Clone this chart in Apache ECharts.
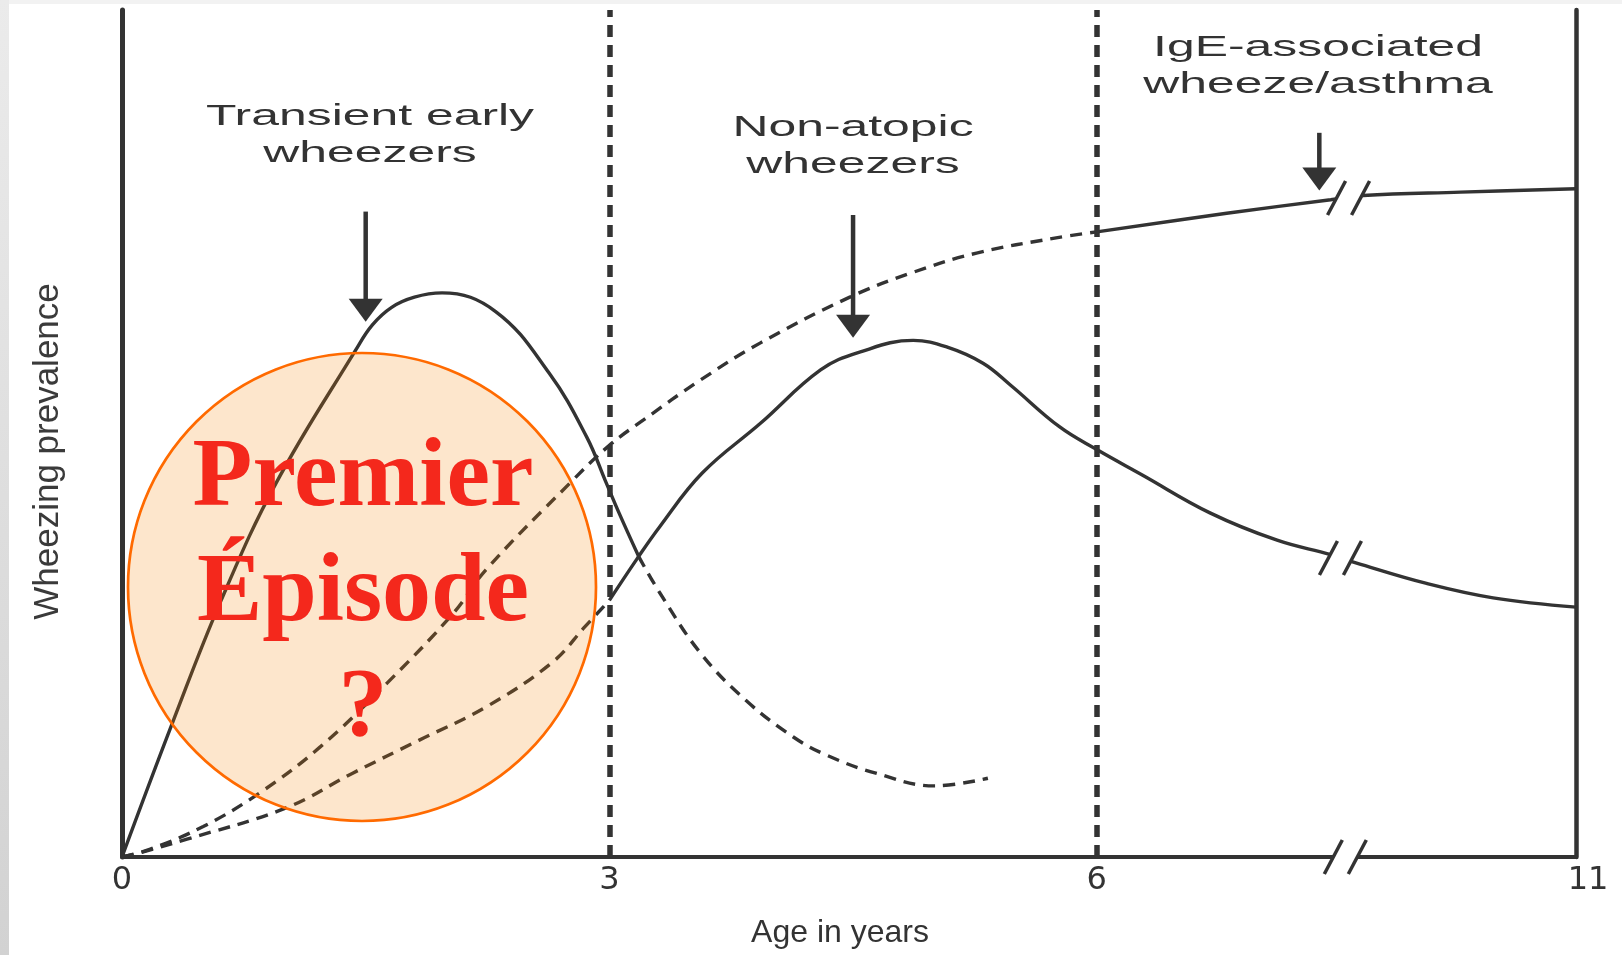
<!DOCTYPE html>
<html lang="en">
<head>
<meta charset="utf-8" />
<title>Wheezing phenotypes</title>
<script src="https://cdn.jsdelivr.net/npm/echarts@6.0.0/dist/echarts.min.js"></script>
<style>
	html,body{margin:0;padding:0;background:#fff;}
	#main{width:1622px;height:955px;}
</style>
</head>
<body>
<div id="main"></div>
<script>
// x: age axis units (axis is broken after 6, the right edge is labelled 11)
var tickPos = [0, 3, 6, 8.95];
var tickLabels = ['0', '3', '6', '11'];
var regionLines = [3, 6];

// Transient early wheezers
var transientSolid = [[0,0],[0.31,15.8],[0.61,30.3],[0.95,44.2],[1.44,59.9],[1.54,62.8],[1.66,64.9],[1.80,66.1],[1.97,66.6],[2.30,64.4],[2.63,57.1],[2.86,49.6],[2.98,44.2],[3.06,40.6],[3.18,35.5]];
var transientDashed = [[3.18,35.5],[3.31,31.2],[3.56,24.1],[3.84,18.5],[4.13,14.2],[4.34,12.0],[4.64,9.9],[5.00,8.4],[5.33,9.3]];
// Non-atopic wheezers
var nonAtopicDashed = [[0,0],[0.11,0.5],[0.40,2.1],[1.01,5.8],[1.42,9.9],[1.83,13.8],[2.24,17.7],[2.65,23.0],[2.85,27.2],[3.00,30.3]];
var nonAtopicSolid = [[3.00,30.3],[3.17,35.2],[3.31,39.0],[3.57,45.3],[3.93,51.2],[4.30,57.5],[4.54,59.6],[4.87,61.0],[5.08,60.2],[5.30,58.3],[5.47,55.7],[5.77,50.8],[6.00,48.1],[6.28,45.1],[6.70,40.6],[7.11,37.4],[7.44,35.7],[7.60,34.7],[8.03,32.3],[8.44,30.6],[8.95,29.5]];
// IgE-associated wheeze/asthma
var igeDashed = [[0,0],[0.17,0.9],[0.50,3.6],[0.85,7.6],[1.22,13.0],[1.63,20.5],[2.04,28.8],[2.24,33.9],[2.76,44.2],[3.00,48.6],[3.21,51.6],[3.56,56.3],[3.93,60.7],[4.48,66.1],[4.85,68.9],[5.26,71.3],[5.75,73.1],[6.00,73.8]];
var igeSolid = [[6.00,73.8],[6.80,76.0],[7.44,77.6],[7.64,78.1],[8.24,78.5],[8.95,78.9]];

// arrows: [x, top of shaft, tip]
var arrows = [[1.50,76.2,63.2],[4.50,75.8,61.3],[7.37,85.5,78.7]];
// axis break marks "//": [x, y]
var breakMarks = [[7.53,0],[7.55,77.8],[7.50,35.3]];

var ink = '#333';
var dash = [12, 8];

function tickLabel(v){
	for (var i = 0; i < tickPos.length; i++) {
		if (Math.abs(tickPos[i] - v) < 1e-6) {
			// last label sits a bit to the right of the end line
			return i === tickPos.length - 1 ? '{r|' + tickLabels[i] + '}' : tickLabels[i];
		}
	}
	return '';
}

function lineSeries(data, dashed){
	return {
		type: 'line',
		data: data,
		smooth: 0.4,
		showSymbol: false,
		silent: true,
		z: 3,
		lineStyle: {color: ink, width: 3.4, type: dashed ? dash : 'solid'}
	};
}

var chart = echarts.init(document.getElementById('main'));

var series = [
	lineSeries(transientSolid, false),
	lineSeries(transientDashed, true),
	lineSeries(nonAtopicDashed, true),
	lineSeries(nonAtopicSolid, false),
	lineSeries(igeDashed, true),
	lineSeries(igeSolid, false)
];
// vertical dotted lines at 3 and 6 years
series[4].markLine = {
	silent: true,
	symbol: 'none',
	label: {show: false},
	lineStyle: {color: ink, width: 5.5, type: [12, 8]},
	data: regionLines.map(function (x) { return {xAxis: x}; })
};

series.push({
	type: 'custom',
	silent: true,
	z: 6,
	data: arrows,
	encode: {x: 0, y: [1, 2]},
	renderItem: function (params, api) {
		var top = api.coord([api.value(0), api.value(1)]);
		var tip = api.coord([api.value(0), api.value(2)]);
		return {
			type: 'group',
			children: [
				{type: 'line', shape: {x1: top[0], y1: top[1], x2: tip[0], y2: tip[1] - 20}, style: {stroke: ink, lineWidth: 4.5}},
				{type: 'polygon', shape: {points: [[tip[0] - 17, tip[1] - 23], [tip[0] + 17, tip[1] - 23], [tip[0], tip[1]]]}, style: {fill: ink}}
			]
		};
	}
});

series.push({
	type: 'custom',
	silent: true,
	z: 6,
	data: breakMarks,
	encode: {x: 0, y: 1},
	renderItem: function (params, api) {
		var c = api.coord([api.value(0), api.value(1)]);
		var cx = c[0], cy = c[1];
		var h = 8, s = 9 * h / 17;
		return {
			type: 'group',
			children: [
				{type: 'polygon', shape: {points: [[cx - 12 - s, cy + h], [cx + 12 - s, cy + h], [cx + 12 + s, cy - h], [cx - 12 + s, cy - h]]}, style: {fill: '#fff'}},
				{type: 'line', shape: {x1: cx - 21, y1: cy + 17, x2: cx - 3, y2: cy - 17}, style: {stroke: ink, lineWidth: 3.5}},
				{type: 'line', shape: {x1: cx + 3, y1: cy + 17, x2: cx + 21, y2: cy - 17}, style: {stroke: ink, lineWidth: 3.5}}
			]
		};
	}
});

function label(x, y, text){
	return {
		type: 'text', x: x, y: y, scaleX: 1.72, z: 50,
		style: {text: text, fontSize: 29, fontFamily: 'Liberation Sans', fill: ink,
			align: 'center', verticalAlign: 'middle', textAlign: 'center', textVerticalAlign: 'middle', lineHeight: 37}
	};
}

var option = {
	backgroundColor: '#fff',
	animation: false,
	grid: {left: 122, right: 46, top: 10, bottom: 98},
	xAxis: {
		type: 'value', min: 0, max: 8.95,
		name: 'Age in years', nameLocation: 'middle', nameGap: 60,
		nameTextStyle: {fontSize: 32, color: ink, fontFamily: 'Liberation Sans', padding: [0, 18, 0, 0]},
		axisLine: {lineStyle: {color: ink, width: 4}},
		axisTick: {show: false},
		splitLine: {show: false},
		axisLabel: {
			customValues: tickPos, formatter: tickLabel, fontSize: 32, color: ink, fontFamily: 'DejaVu Sans', margin: 8,
			rich: {r: {fontSize: 32, color: ink, fontFamily: 'DejaVu Sans', padding: [0, 0, 0, 24]}}
		}
	},
	yAxis: [{
		type: 'value', min: 0, max: 100, position: 'left',
		name: 'Wheezing prevalence', nameLocation: 'middle', nameRotate: 90, nameGap: 56,
		nameTextStyle: {fontSize: 35, color: '#3a3a3a', fontFamily: 'Liberation Sans', padding: [0, 36, 0, 0]},
		axisLine: {show: true, lineStyle: {color: ink, width: 5}},
		axisTick: {show: false}, axisLabel: {show: false}, splitLine: {show: false}
	}, {
		type: 'value', min: 0, max: 100, position: 'right',
		axisLine: {show: true, lineStyle: {color: ink, width: 4.5}},
		axisTick: {show: false}, axisLabel: {show: false}, splitLine: {show: false}
	}],
	graphic: [
		{type: 'rect', shape: {x: 0, y: 0, width: 1622, height: 4}, style: {fill: '#f2f2f2'}, z: 0},
		{type: 'rect', shape: {x: 0, y: 0, width: 9, height: 955}, z: 0,
			style: {fill: new echarts.graphic.LinearGradient(0, 0, 0, 1, [{offset: 0, color: '#ebebeb'}, {offset: 1, color: '#d2d2d2'}])}},
		label(370, 135, 'Transient early\nwheezers'),
		label(853, 146, 'Non-atopic\nwheezers'),
		label(1318, 66, 'IgE-associated\nwheeze/asthma'),
		{type: 'circle', z: 100, shape: {cx: 362, cy: 587, r: 234},
			style: {fill: 'rgba(245,130,0,0.2)', stroke: '#ff6a00', lineWidth: 2.7}},
		{type: 'text', x: 363, y: 595, z: 101,
			style: {text: 'Premier\nÉpisode\n?', fontSize: 98, fontWeight: 'bold', fontFamily: 'Liberation Serif', fill: '#f4281c',
				align: 'center', verticalAlign: 'middle', textAlign: 'center', textVerticalAlign: 'middle', lineHeight: 115}}
	],
	series: series
};

chart.setOption(option);
</script>
</body>
</html>
